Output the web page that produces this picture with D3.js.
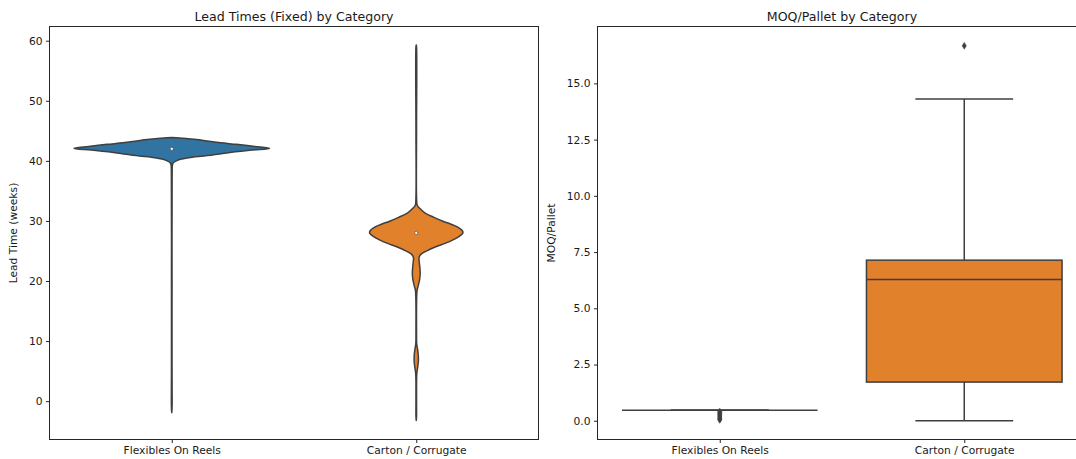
<!DOCTYPE html>
<html>
<head>
<meta charset="utf-8">
<script src="https://cdn.jsdelivr.net/npm/d3@7"></script>
<style>
  body { margin: 0; background: #fff; }
  svg { display: block; }
  text { font-family: "DejaVu Sans", sans-serif; fill: #1a1a1a; }
</style>
</head>
<body>
<svg id="chart" width="1076" height="459"></svg>
<script>
// Categories and palette
const categories = ["Flexibles On Reels", "Carton / Corrugate"];
const palette = ["#3274a1", "#e1812c"];
const lineGray = "#3f3f3f";

// Lead time density outlines: value (weeks) and relative half-width (1 = full violin width)
const flexLeadValues = [43.9, 43.8, 43.7, 43.5, 43.3, 43.0, 42.75, 42.4, 42.08, 41.8, 41.5, 41.13, 40.8, 40.6, 40.3, 40.0, 39.7, 39.3, 38.0, 20.0, 5.0, 1.0, -0.5, -1.5, -1.9];
const flexLeadWidths = [0.0, 0.08, 0.17, 0.28, 0.36, 0.5, 0.66, 0.85, 1.0, 0.82, 0.65, 0.49, 0.33, 0.21, 0.1, 0.047, 0.016, 0.007, 0.004, 0.003, 0.003, 0.004, 0.004, 0.002, 0.0];
const cartonLeadValues = [59.3, 59.0, 45.0, 33.5, 32.6, 32.1, 31.25, 30.6, 30.0, 29.5, 29.0, 28.4, 28.0, 27.4, 26.8, 26.3, 25.7, 25.2, 24.6, 24.2, 23.8, 23.0, 22.0, 21.2, 20.2, 19.2, 18.4, 17.0, 12.0, 9.5, 8.7, 7.8, 6.8, 5.8, 4.8, 4.0, 0.0, -2.5, -3.2];
const cartonLeadWidths = [0.0, 0.003, 0.003, 0.004, 0.01, 0.035, 0.095, 0.18, 0.266, 0.35, 0.42, 0.47, 0.477, 0.436, 0.37, 0.3, 0.2, 0.13, 0.06, 0.035, 0.028, 0.032, 0.038, 0.04, 0.034, 0.02, 0.008, 0.004, 0.003, 0.005, 0.013, 0.02, 0.022, 0.016, 0.007, 0.004, 0.003, 0.003, 0.0];
const leadMedians = [42, 28];
const leadTicks = [0, 10, 20, 30, 40, 50, 60];

// MOQ/Pallet box statistics per category
const moqQ1 = [0.47, 1.72];
const moqMedian = [0.47, 6.28];
const moqQ3 = [0.47, 7.14];
const moqLowWhisker = [0.47, 0.0];
const moqHighWhisker = [0.47, 14.3];
const flexMoqOutliers = [0.04, 0.08, 0.12, 0.17, 0.22, 0.27, 0.32, 0.37, 0.41];
const cartonMoqOutliers = [16.67];
const moqTicks = [0, 2.5, 5, 7.5, 10, 12.5, 15];

const svg = d3.select("#chart");

// Shared panel geometry
const panelTop = 26.5, panelBottom = 439.5;
const tickFont = 10.7, titleFont = 12.6;

function frame(g, x0, x1) {
  g.append("rect")
    .attr("x", x0).attr("y", panelTop)
    .attr("width", x1 - x0).attr("height", panelBottom - panelTop)
    .attr("fill", "none").attr("stroke", "#262626").attr("stroke-width", 1);
}

function styleAxis(g) {
  g.select(".domain").remove();
  g.selectAll(".tick line").attr("stroke", "#262626").attr("stroke-width", 1);
  g.selectAll(".tick text").attr("font-size", tickFont)
    .style("font-family", '"DejaVu Sans", sans-serif').attr("fill", "#1a1a1a");
}

function addTitle(text, x0, x1) {
  svg.append("text").attr("x", (x0 + x1) / 2).attr("y", 20.5)
    .attr("text-anchor", "middle").attr("font-size", titleFont).text(text);
}

function addYLabel(text, x) {
  svg.append("text")
    .attr("transform", `translate(${x},${(panelTop + panelBottom) / 2}) rotate(-90)`)
    .attr("text-anchor", "middle").attr("font-size", tickFont).text(text);
}

// ---------- Left panel: violins ----------
const L0 = 49.5, L1 = 538.5;
const xL = d3.scalePoint().domain(categories).range([L0, L1]).padding(0.5);
const yL = d3.scaleLinear().domain([-6.3, 62.45]).range([439, 26]);
const stepL = xL.step();

const left = svg.append("g");

const violins = [
  { cat: categories[0], values: flexLeadValues, widths: flexLeadWidths, color: palette[0], median: leadMedians[0] },
  { cat: categories[1], values: cartonLeadValues, widths: cartonLeadWidths, color: palette[1], median: leadMedians[1] }
];

violins.forEach(v => {
  const cx = xL(v.cat);
  const pts = v.values.map((val, i) => ({ val, w: v.widths[i] }));
  const area = d3.area()
    .y(d => yL(d.val))
    .x0(d => cx - d.w * 0.4 * stepL)
    .x1(d => cx + d.w * 0.4 * stepL)
    .curve(d3.curveCatmullRom.alpha(0.5));
  left.append("path")
    .attr("d", area(pts))
    .attr("fill", v.color)
    .attr("stroke", lineGray)
    .attr("stroke-width", 1.5)
    .attr("stroke-linejoin", "round");
  left.append("circle")
    .attr("cx", cx).attr("cy", yL(v.median)).attr("r", 1.6)
    .attr("fill", "#fff").attr("stroke", lineGray).attr("stroke-width", 0.6);
});

const yAxisL = svg.append("g").attr("transform", `translate(${L0},0)`)
  .call(d3.axisLeft(yL).tickValues(leadTicks).tickSize(3.5).tickPadding(3.5));
styleAxis(yAxisL);
const xAxisL = svg.append("g").attr("transform", `translate(0,${panelBottom})`)
  .call(d3.axisBottom(xL).tickSize(3.5).tickPadding(3.5));
styleAxis(xAxisL);
frame(svg, L0, L1);
addTitle("Lead Times (Fixed) by Category", L0, L1);
addYLabel("Lead Time (weeks)", 17);

// ---------- Right panel: box plots ----------
const R0 = 597.5, R1 = 1086.5;
const xR = d3.scalePoint().domain(categories).range([R0, R1]).padding(0.5);
const yR = d3.scaleLinear().domain([-0.81, 17.55]).range([439, 26]);
const stepR = xR.step();

const right = svg.append("g");
const outliers = [flexMoqOutliers, cartonMoqOutliers];

categories.forEach((cat, i) => {
  const cx = xR(cat);
  const hw = 0.4 * stepR;
  const g = right.append("g");
  // whiskers
  g.append("line").attr("x1", cx).attr("x2", cx)
    .attr("y1", yR(moqQ1[i])).attr("y2", yR(moqLowWhisker[i]))
    .attr("stroke", lineGray).attr("stroke-width", 1.5);
  g.append("line").attr("x1", cx).attr("x2", cx)
    .attr("y1", yR(moqQ3[i])).attr("y2", yR(moqHighWhisker[i]))
    .attr("stroke", lineGray).attr("stroke-width", 1.5);
  // caps
  [moqLowWhisker[i], moqHighWhisker[i]].forEach(v => {
    g.append("line").attr("x1", cx - hw / 2).attr("x2", cx + hw / 2)
      .attr("y1", yR(v)).attr("y2", yR(v))
      .attr("stroke", lineGray).attr("stroke-width", 1.5);
  });
  // box
  g.append("rect")
    .attr("x", cx - hw).attr("width", 2 * hw)
    .attr("y", yR(moqQ3[i])).attr("height", Math.max(0, yR(moqQ1[i]) - yR(moqQ3[i])))
    .attr("fill", palette[i]).attr("stroke", lineGray).attr("stroke-width", 1.5);
  // median
  g.append("line").attr("x1", cx - hw).attr("x2", cx + hw)
    .attr("y1", yR(moqMedian[i])).attr("y2", yR(moqMedian[i]))
    .attr("stroke", lineGray).attr("stroke-width", 1.5);
  // fliers (thin diamonds)
  outliers[i].forEach(v => {
    const y = yR(v);
    g.append("path")
      .attr("d", `M${cx},${y - 3.4}L${cx + 2.1},${y}L${cx},${y + 3.4}L${cx - 2.1},${y}Z`)
      .attr("fill", lineGray).attr("stroke", lineGray).attr("stroke-width", 0.5);
  });
});

const yAxisR = svg.append("g").attr("transform", `translate(${R0},0)`)
  .call(d3.axisLeft(yR).tickValues(moqTicks).tickFormat(d3.format(".1f")).tickSize(3.5).tickPadding(3.5));
styleAxis(yAxisR);
const xAxisR = svg.append("g").attr("transform", `translate(0,${panelBottom})`)
  .call(d3.axisBottom(xR).tickSize(3.5).tickPadding(3.5));
styleAxis(xAxisR);
frame(svg, R0, R1);
addTitle("MOQ/Pallet by Category", R0, R1);
addYLabel("MOQ/Pallet", 555);
</script>
</body>
</html>
